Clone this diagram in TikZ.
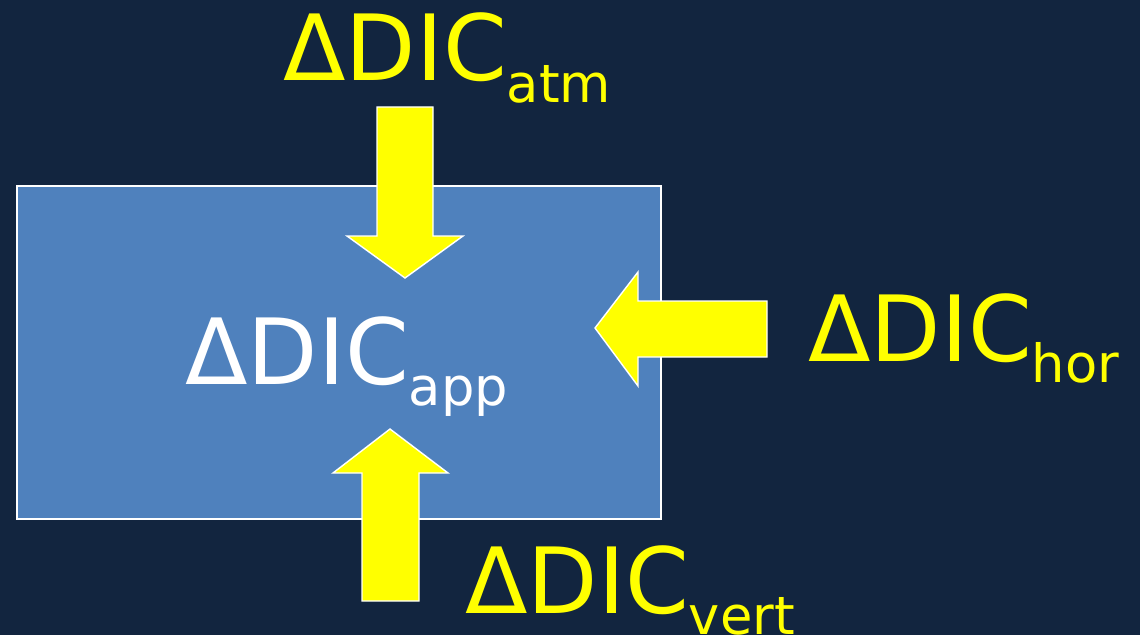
\documentclass[tikz,border=0pt]{standalone}
\usepackage{fontspec}
\setmainfont{DejaVu Sans}

\definecolor{navy}{HTML}{12253F}
\definecolor{boxblue}{HTML}{4F81BD}
\definecolor{arrowyellow}{HTML}{FFFF00}

\newcommand{\dic}[1]{\fontsize{52}{52}\selectfont ΔDIC\raisebox{-12pt}{\fontsize{30}{30}\selectfont #1}}

\tikzset{
  blockarrow/.style={fill=arrowyellow,draw=white,line width=0.8pt,line join=miter},
  dictext/.style={inner sep=0pt,anchor=base west,text=arrowyellow}
}

\begin{document}
\begin{tikzpicture}[x=0.02cm,y=-0.02cm]

% Background
\fill[navy] (0,0) rectangle (1140,635);
\useasboundingbox (0,0) rectangle (1140,635);

% The box
\filldraw[fill=boxblue,draw=white,line width=1.2pt] (17,186) rectangle (661,519);

% Arrows
\draw[blockarrow] (377,107) -- (433,107) -- (433,236) -- (463,236) -- (405,278)
  -- (347,236) -- (377,236) -- cycle;
\draw[blockarrow] (767,301) -- (767,357) -- (638,357) -- (638,386) -- (595,328)
  -- (638,272) -- (638,301) -- cycle;
\draw[blockarrow] (362,601) -- (362,473) -- (333,473) -- (390,429) -- (448,473)
  -- (419,473) -- (419,601) -- cycle;

% Labels
\node[dictext] (atm) at (283,81) {\dic{atm}};
\node[dictext] (hor) at (808,361) {\dic{hor}};
\node[dictext,text=white] (app) at (185,384) {\dic{app}};
\node[dictext] (vert) at (465,613) {\dic{vert}};

\end{tikzpicture}
\end{document}
